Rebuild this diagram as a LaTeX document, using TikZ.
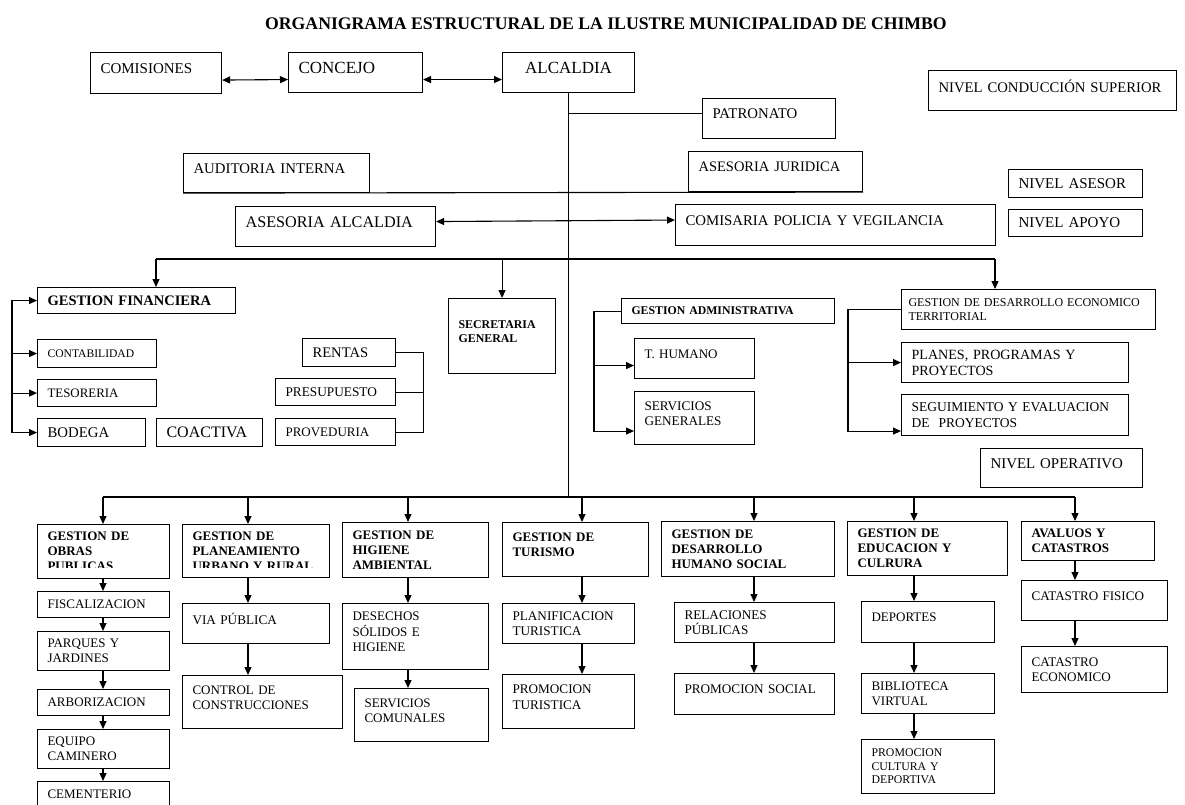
\documentclass[tikz,border=0pt]{standalone}
\usepackage{fontspec}
\setmainfont{Liberation Serif}
\usetikzlibrary{arrows.meta}

\begin{document}
\begin{tikzpicture}[x=1pt, y=-1pt, line width=1.1pt, >={Triangle[length=8pt,width=7pt]},
  caja/.style 2 args={draw, anchor=north west, inner xsep=10pt, inner ysep=0pt,
    minimum width=#1, minimum height=#2, text width=#1-20, align=left},
  arriba/.style={execute at end node={\rule[-9pt]{0pt}{9pt}}},
  fs/.style 2 args={font=\fontsize{#1}{#2}\selectfont},
  fb/.style 2 args={font=\fontsize{#1}{#2}\selectfont\bfseries}]
  \useasboundingbox (0,0) rectangle (1185,805);
  \node[fb={17.7}{20}] (Titulo) at (606,24) {ORGANIGRAMA ESTRUCTURAL DE LA ILUSTRE MUNICIPALIDAD DE CHIMBO};

  \node[caja={131}{41}, fs={15}{17}, arriba] (Comisiones) at (90,52) {COMISIONES};
  \node[caja={134}{40}, fs={17}{19}, arriba] (Concejo) at (288,52) {CONCEJO};
  \node[caja={132}{40}, fs={17}{19}, align=center, arriba] (Alcaldia) at (502,52) {ALCALDIA};
  \node[caja={248}{40}, fs={14.7}{17}, arriba] (NivSup) at (928,70) {NIVEL CONDUCCIÓN SUPERIOR};
  \node[caja={133}{40}, fs={14.8}{17}, arriba] (Patronato) at (702,98) {PATRONATO};
  \node[caja={186}{39}, fs={14.8}{17}, arriba] (Auditoria) at (183,153) {AUDITORIA INTERNA};
  \node[caja={174}{40}, fs={14.5}{17}, arriba] (Juridica) at (688,151) {ASESORIA JURIDICA};
  \node[caja={134}{28}, fs={15}{17}] (NivAsesor) at (1008,169) {NIVEL ASESOR};
  \node[caja={134}{27}, fs={15}{17}] (NivApoyo) at (1008,209) {NIVEL APOYO};
  \node[caja={200}{40}, fs={16.2}{18}, arriba] (AsesorAlc) at (235,206) {ASESORIA ALCALDIA};
  \node[caja={320}{41}, fs={14.8}{17}, arriba] (Comisaria) at (675,204) {COMISARIA POLICIA Y VEGILANCIA};

  \node[caja={198}{26}, fb={14.5}{17}] (Financiera) at (37,287) {GESTION FINANCIERA};
  \node[caja={119}{28}, fs={11.6}{13}] (Contab) at (37,339) {CONTABILIDAD};
  \node[caja={119}{27}, fs={12.9}{15}] (Tesoreria) at (37,379) {TESORERIA};
  \node[caja={108}{28}, fs={14.8}{17}] (Bodega) at (37,418) {BODEGA};
  \node[caja={106}{28}, fs={16}{18}] (Coactiva) at (156,418) {COACTIVA};
  \node[caja={93}{28}, fs={14.6}{17}] (Rentas) at (302,338) {RENTAS};
  \node[caja={120}{27}, fs={13.3}{15}] (Presup) at (275,378) {PRESUPUESTO};
  \node[caja={120}{27}, fs={13}{15}] (Proved) at (275,418) {PROVEDURIA};
  \node[caja={107}{75}, fb={11.9}{14}, arriba] (Secretaria) at (448,298) {SECRETARIA\\GENERAL};
  \node[caja={213}{25}, fb={11.8}{14}] (Administ) at (621,298) {GESTION ADMINISTRATIVA};
  \node[caja={120}{40}, fs={13}{15}, arriba] (THumano) at (634,338) {T. HUMANO};
  \node[caja={120}{53}, fs={13.2}{15.5}, arriba] (ServGen) at (634,391) {SERVICIOS\\GENERALES};
  \node[caja={253}{40}, fs={12}{14}, inner xsep=7pt, text width=240] (Economico) at (901,289) {GESTION DE DESARROLLO ECONOMICO\\TERRITORIAL};
  \node[caja={227}{40}, fs={14.1}{16}] (Planes) at (901,342) {PLANES, PROGRAMAS Y\\PROYECTOS};
  \node[caja={227}{41}, fs={13.5}{15.5}] (Seguim) at (901,394) {SEGUIMIENTO Y EVALUACION\\DE\ \ PROYECTOS};
  \node[caja={162}{39}, fs={14.9}{17}, arriba] (NivOper) at (980,448) {NIVEL OPERATIVO};

  \node[caja={132}{54}, fb={13}{15}] (Obras) at (37,524) {GESTION DE\\OBRAS\\PUBLICAS};
  \node[caja={132}{26}, fs={13}{15}] (Fiscal) at (37,591) {FISCALIZACION};
  \node[caja={132}{39}, fs={13}{15}] (Parques) at (37,631) {PARQUES Y\\JARDINES};
  \node[caja={132}{26}, fs={13}{15}] (Arbor) at (37,689) {ARBORIZACION};
  \node[caja={132}{39}, fs={13}{15}] (Equipo) at (37,729) {EQUIPO\\CAMINERO};
  \node[caja={132}{26}, fs={13}{15}] (Cement) at (37,781) {CEMENTERIO};
  \node[caja={147}{53}, fb={13}{15}] (Planeam) at (182,524) {GESTION DE\\PLANEAMIENTO\\URBANO Y RURAL};
  \node[caja={147}{40}, fs={13.2}{15}, arriba] (ViaPub) at (182,603) {VIA PÚBLICA};
  \node[caja={160}{53}, fs={13}{15}, arriba] (Control) at (182,675) {CONTROL DE\\CONSTRUCCIONES};
  \node[caja={146}{55}, fb={13}{15}] (Higiene) at (342,522) {GESTION DE\\HIGIENE\\AMBIENTAL};
  \node[caja={146}{66}, fs={13}{15.5}, arriba] (Desechos) at (342,603) {DESECHOS\\SÓLIDOS E\\HIGIENE};
  \node[caja={134}{53}, fs={13}{15}, arriba] (ServCom) at (354,688) {SERVICIOS\\COMUNALES};
  \node[caja={146}{54}, fb={13}{15}, arriba] (Turismo) at (502,522) {GESTION DE\\TURISMO};
  \node[caja={132}{40}, fs={13.2}{15.5}] (PlanTur) at (502,603) {PLANIFICACION\\TURISTICA};
  \node[caja={132}{54}, fs={13.2}{15.5}, arriba] (PromTur) at (502,674) {PROMOCION\\TURISTICA};
  \node[caja={173}{55}, fb={13}{15}] (DesHum) at (661,521) {GESTION DE\\DESARROLLO\\HUMANO SOCIAL};
  \node[caja={160}{40}, fs={13.2}{15.5}] (Relac) at (674,602) {RELACIONES\\PÚBLICAS};
  \node[caja={160}{41}, fs={13.2}{15.5}, arriba] (PromSoc) at (674,673) {PROMOCION SOCIAL};
  \node[caja={160}{54}, fb={13}{15}] (Educac) at (847,521) {GESTION DE\\EDUCACION Y\\CULRURA};
  \node[caja={133}{41}, fs={13}{15}, arriba] (Deportes) at (861,601) {DEPORTES};
  \node[caja={133}{40}, fs={13}{15}] (Biblio) at (861,673) {BIBLIOTECA\\VIRTUAL};
  \node[caja={133}{54}, fs={11.8}{13.5}] (PromCult) at (861,739) {PROMOCION\\CULTURA Y\\DEPORTIVA};
  \node[caja={133}{39}, fb={13}{15}] (Avaluos) at (1021,521) {AVALUOS Y\\CATASTROS};
  \node[caja={146}{40}, fs={13.1}{15}, arriba] (CatFis) at (1021,580) {CATASTRO FISICO};
  \node[caja={146}{46}, fs={13.1}{15.5}] (CatEco) at (1021,646) {CATASTRO\\ECONOMICO};

  \fill[white] ([xshift=1pt, yshift=1pt]Obras.south west) rectangle ([xshift=-1pt, yshift=11pt]Obras.south east);
  \fill[white] ([xshift=1pt, yshift=1pt]Planeam.south west) rectangle ([xshift=-1pt, yshift=10pt]Planeam.south east);

  \coordinate (BusB) at (569,497);
  \coordinate (Fin) at (156,259);
  \coordinate (Eco) at (995,259);
  \coordinate (C1) at (103,497);
  \coordinate (C2) at (248,497);
  \coordinate (C3) at (408,497);
  \coordinate (C4) at (582,497);
  \coordinate (C5) at (754,497);
  \coordinate (C6) at (914,497);
  \coordinate (C7) at (1075,497);

  \draw[<->] ([yshift=-7pt]Comisiones.east) -- ([yshift=-7pt]Concejo.west);
  \draw[<->] ([yshift=-7pt]Concejo.east) -- ([yshift=-7pt]Alcaldia.west);
  \draw (Alcaldia.south) -- (Alcaldia.south |- BusB);
  \draw ([yshift=5pt]Patronato.west) -- ([yshift=5pt]Patronato.west -| Alcaldia.south);
  \draw (Auditoria.south west) -- (Juridica.south east);
  \draw[<->] ([yshift=5pt]AsesorAlc.east) -- ([yshift=5pt]Comisaria.west);

  \draw (Fin) -- (Eco);
  \draw[->] (Fin) -- (Fin |- Financiera.north);
  \draw[->] (Secretaria.north |- Fin) -- (Secretaria.north);
  \draw[->] (Eco) -- (Eco |- Economico.north);

  \draw[->] ([xshift=-25pt]Bodega.west) |- (Financiera.west);
  \draw[->] ([xshift=-25pt]Contab.west) -- (Contab.west);
  \draw[->] ([xshift=-25pt]Tesoreria.west) -- (Tesoreria.west);
  \draw[->] ([xshift=-25pt]Bodega.west) -- (Bodega.west);
  \draw (Rentas.east) -- ++(27,0) |- (Proved.east);
  \draw (Presup.east) -- ++(27,0);

  \draw[->] (Administ.west) -- ++(-27,0) |- ([yshift=-13pt]ServGen.west);
  \draw[->] ([xshift=-40pt, yshift=-7pt]THumano.west) -- ([yshift=-7pt]THumano.west);
  \draw[->] (Economico.west) -- ++(-53,0) |- ([yshift=-16pt]Seguim.west);
  \draw[->] ([xshift=-53pt]Planes.west) -- (Planes.west);

  \draw (C1) -- (C7);
  \draw[->] (C1) -- (C1 |- Obras.north);
  \draw[->] (C1 |- Obras.south) -- (C1 |- Fiscal.north);
  \draw[->] (C1 |- Fiscal.south) -- (C1 |- Parques.north);
  \draw[->] (C1 |- Parques.south) -- (C1 |- Arbor.north);
  \draw[->] (C1 |- Arbor.south) -- (C1 |- Equipo.north);
  \draw[->] (C1 |- Equipo.south) -- (C1 |- Cement.north);
  \draw[->] (C2) -- (C2 |- Planeam.north);
  \draw[->] (C2 |- Planeam.south) -- (C2 |- ViaPub.north);
  \draw[->] (C2 |- ViaPub.south) -- (C2 |- Control.north);
  \draw[->] (C3) -- (C3 |- Higiene.north);
  \draw[->] (C3 |- Higiene.south) -- (C3 |- Desechos.north);
  \draw[->] (C3 |- Desechos.south) -- (C3 |- ServCom.north);
  \draw[->] (C4) -- (C4 |- Turismo.north);
  \draw[->] (C4 |- Turismo.south) -- (C4 |- PlanTur.north);
  \draw[->] (C4 |- PlanTur.south) -- (C4 |- PromTur.north);
  \draw[->] (C5) -- (C5 |- DesHum.north);
  \draw[->] (C5 |- DesHum.south) -- (C5 |- Relac.north);
  \draw[->] (C5 |- Relac.south) -- (C5 |- PromSoc.north);
  \draw[->] (C6) -- (C6 |- Educac.north);
  \draw[->] (C6 |- Educac.south) -- (C6 |- Deportes.north);
  \draw[->] (C6 |- Deportes.south) -- (C6 |- Biblio.north);
  \draw[->] (C6 |- Biblio.south) -- (C6 |- PromCult.north);
  \draw[->] (C7) -- (C7 |- Avaluos.north);
  \draw[->] (C7 |- Avaluos.south) -- (C7 |- CatFis.north);
  \draw[->] (C7 |- CatFis.south) -- (C7 |- CatEco.north);
\end{tikzpicture}
\end{document}
